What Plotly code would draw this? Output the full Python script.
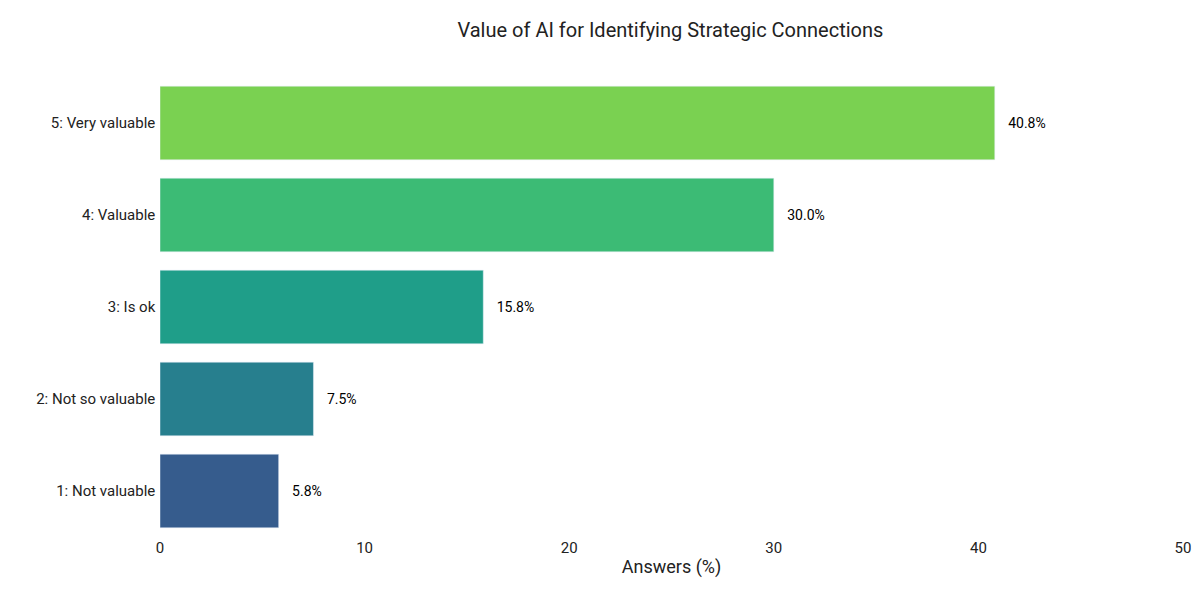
import plotly.graph_objects as go

categories = ["1: Not valuable", "2: Not so valuable", "3: Is ok", "4: Valuable", "5: Very valuable"]
values = [5.8, 7.5, 15.8, 30.0, 40.8]
colors = ["#365c8d", "#277f8e", "#1f9e89", "#3cbb75", "#7ad151"]

fig = go.Figure(go.Bar(
    x=values, y=categories, orientation="h",
    marker_color=colors,
    text=[f"   {v:.1f}%" for v in values],
    textposition="outside",
    textfont=dict(size=14, color="black"),
    cliponaxis=False,
))
fig.update_layout(
    width=1200, height=600,
    title=dict(text="Value of AI for Identifying Strategic Connections", x=0.552, xanchor="center",
               y=0.963, yanchor="middle", font=dict(size=20, color="#222")),
    font=dict(family="Roboto", size=15, color="#222"),
    plot_bgcolor="white", paper_bgcolor="white",
    margin=dict(l=152, r=25, t=69, b=71),
    bargap=0.2,
    showlegend=False,
)
fig.update_xaxes(range=[0, 50], dtick=10, showgrid=False, zeroline=False, automargin=False,
                 title=dict(text="Answers (%)", standoff=4), ticks="", ticklen=10)
fig.update_yaxes(showgrid=False, ticks="", ticksuffix=" ", automargin=False)
fig.write_html("out.html")
